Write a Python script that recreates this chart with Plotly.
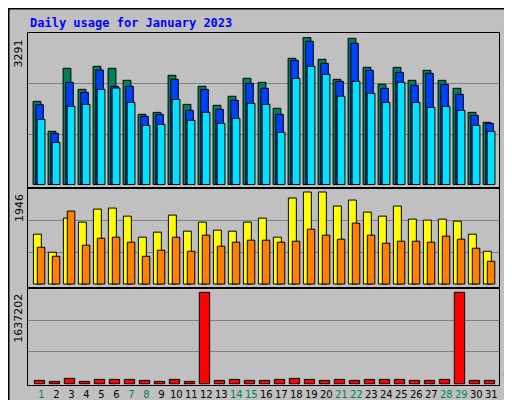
import plotly.graph_objects as go

days = list(range(1, 32))
weekend_days = [1, 7, 8, 14, 15, 21, 22, 28, 29]

hits = [1863, 1192, 2603, 2132, 2648, 2603, 2334, 1572, 1617, 2446, 1796, 2200, 1774, 1976, 2379, 2289,
        1707, 2827, 3291, 2804, 2356, 3275, 2625, 2244, 2625, 2334, 2558, 2334, 2155, 1617, 1393]
files = [1788, 1147, 2289, 2065, 2565, 2200, 2200, 1528, 1572, 2356, 1662, 2132, 1684, 1886, 2267, 2155,
         1572, 2782, 3208, 2715, 2312, 3163, 2558, 2155, 2513, 2222, 2491, 2244, 2020, 1550, 1371]
pages = [1460, 945, 1752, 1796, 2132, 2162, 1841, 1326, 1348, 1908, 1438, 1617, 1371, 1483, 1819, 1796,
         1169, 2379, 2648, 2469, 1976, 2312, 2043, 1841, 2289, 1841, 1729, 1752, 1662, 1326, 1192]
visits = [1054, 672, 1394, 1309, 1585, 1606, 1436, 991, 1097, 1458, 1118, 1309, 1139, 1118, 1309, 1394,
          991, 1819, 1946, 1946, 1649, 1776, 1521, 1436, 1649, 1373, 1352, 1373, 1330, 1054, 693]
sites = [778, 587, 1543, 821, 969, 991, 885, 587, 715, 991, 693, 1033, 800, 885, 927, 927,
         885, 906, 1160, 1033, 948, 1288, 1033, 863, 906, 906, 885, 1012, 948, 757, 481]
kbytes = [59800, 41800, 95600, 41800, 77700, 77700, 77700, 59800, 41800, 77700, 41800, 1637202, 59800,
          77700, 59800, 59800, 77700, 95600, 77700, 59800, 77700, 59800, 77700, 77700, 77700, 59800,
          59800, 77700, 1637202, 59800, 59800]

GREEN = "#00805C"
day_labels = [f'<span style="color:{GREEN}">{d}</span>' if d in weekend_days else str(d) for d in days]

fig = go.Figure()
line = dict(color="black", width=1)

def bar(y, color, off, w, axis):
    return go.Bar(x=days, y=y, marker=dict(color=color, line=line), offset=off, width=w,
                  xaxis=axis[0], yaxis=axis[1], hoverinfo="y", showlegend=False)

fig.add_trace(bar(hits, GREEN, -0.55, 0.52, ("x", "y")))
fig.add_trace(bar(files, "#0040FF", -0.37, 0.5, ("x", "y")))
fig.add_trace(bar(pages, "#00E0FF", -0.28, 0.52, ("x", "y")))
fig.add_trace(bar(visits, "#FFFF00", -0.53, 0.53, ("x2", "y2")))
fig.add_trace(bar(sites, "#FF8000", -0.27, 0.5, ("x2", "y2")))
fig.add_trace(bar(kbytes, "#FF0000", -0.47, 0.69, ("x3", "y3")))

xr = [0.11, 31.51]
xdom = [20 / 512, 491 / 512]
axis_common = dict(showline=True, mirror=True, linecolor="black", linewidth=1, zeroline=False)
xcommon = dict(range=xr, domain=xdom, showgrid=False, **axis_common)

max_top = max(hits)
max_mid = max(visits)
max_bot = max(kbytes)
top_r = [-78, 3394]
mid_r = [-91, 2031]
bot_r = [-23000, 1708900]

def ycommon(dom, r):
    return dict(domain=dom, range=r, tickvals=[r[1] / 3, 2 * r[1] / 3], showticklabels=False,
                ticks="", gridcolor="#808080", **axis_common)

fig.update_layout(
    width=512, height=400,
    margin=dict(l=0, r=0, t=0, b=0),
    paper_bgcolor="#C0C0C0", plot_bgcolor="#C0C0C0",
    barmode="overlay",
    font=dict(family="DejaVu Sans", size=11, color="black"),
    xaxis=dict(anchor="y", showticklabels=False, ticks="", **xcommon),
    xaxis2=dict(anchor="y2", showticklabels=False, ticks="", **xcommon),
    xaxis3=dict(anchor="y3", tickvals=days, ticktext=day_labels, ticks="", tickangle=0,
                tickfont=dict(size=10), **xcommon),
    yaxis=ycommon([0.55, 0.9375], top_r),
    yaxis2=ycommon([0.2992, 0.55], mid_r),
    yaxis3=ycommon([0.0575, 0.2992], bot_r),
)

# frame with shadow
fig.add_shape(type="rect", xref="paper", yref="paper", x0=504 / 512, x1=1, y0=0, y1=1 - 8 / 400,
              fillcolor="#808080", line=dict(width=0), layer="below")
fig.add_shape(type="rect", xref="paper", yref="paper", x0=8 / 512, x1=1, y0=0, y1=8 / 400,
              fillcolor="#808080", line=dict(width=0), layer="below")
fig.add_shape(type="rect", xref="paper", yref="paper", x0=0.001, x1=0.999, y0=0.001, y1=0.999,
              line=dict(color="black", width=2))

fig.add_annotation(text="<b>Daily usage for January 2023</b>", xref="paper", yref="paper",
                   x=20 / 512, y=1 - 15 / 400, xanchor="left", yanchor="middle", showarrow=False,
                   font=dict(family="DejaVu Sans Mono", size=12, color="#0000FF"))

for val, axis in [(max_top, "y"), (max_mid, "y2"), (max_bot, "y3")]:
    fig.add_annotation(text=str(val), xref="paper", yref=axis, x=11 / 512, y=val, textangle=-90,
                       xanchor="center", yanchor="top", showarrow=False,
                       font=dict(size=11, color="black"))

mono = dict(family="DejaVu Sans Mono", size=11)
fig.add_annotation(text='<span style="color:#00E0FF">Pages</span> / <span style="color:#0040FF">Files</span>'
                        f' / <span style="color:{GREEN}">Hits</span>',
                   xref="paper", yref="paper", x=500 / 512, y=1 - 135 / 400, textangle=-90,
                   xanchor="center", yanchor="bottom", showarrow=False, font=mono)
fig.add_annotation(text='<span style="color:#FF8000">Sites</span> / <span style="color:#FFFF00">Visits</span>',
                   xref="paper", yref="paper", x=500 / 512, y=1 - 277 / 400, textangle=-90,
                   xanchor="center", yanchor="bottom", showarrow=False, font=mono)
fig.add_annotation(text='<span style="color:#FF0000">KBytes</span>',
                   xref="paper", yref="paper", x=500 / 512, y=1 - 377 / 400, textangle=-90,
                   xanchor="center", yanchor="bottom", showarrow=False, font=mono)

fig.write_html("out.html")
